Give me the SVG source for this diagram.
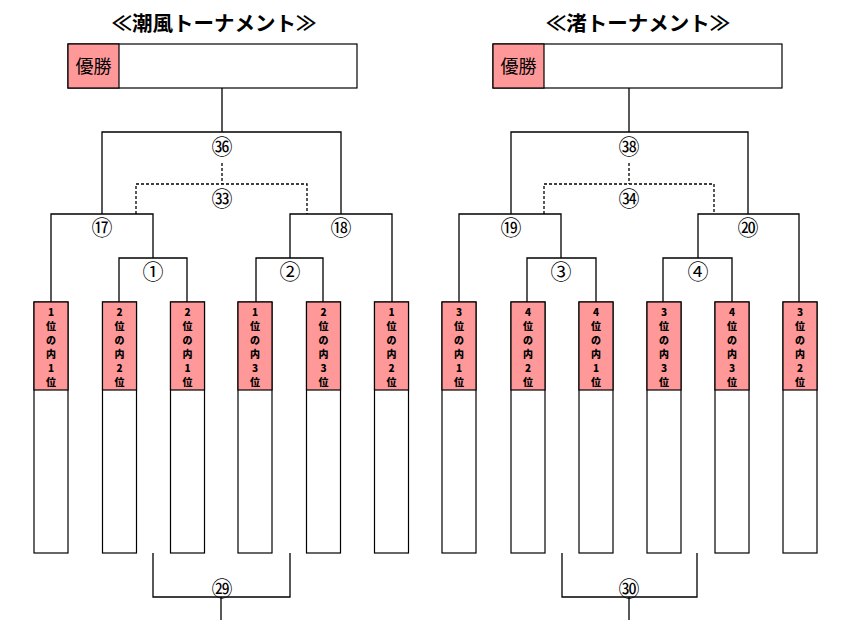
<svg xmlns="http://www.w3.org/2000/svg" width="851" height="620" viewBox="0 0 851 620">
<style>
.ln{stroke:#000;stroke-width:1.3;fill:none}
.dl{stroke:#000;stroke-width:1.3;fill:none;stroke-dasharray:3,2}
.pk{fill:#FF9999;stroke:#000;stroke-width:1.2}
.wb{fill:#fff;stroke:#000;stroke-width:1.2}
.ttl{font-family:"Noto Sans CJK JP",sans-serif;font-size:20.5px;font-weight:bold;text-anchor:middle}
.win{font-family:"Noto Sans CJK JP",sans-serif;font-size:18px;text-anchor:middle}
.cn{font-family:"Noto Sans CJK JP",sans-serif;font-size:21px;text-anchor:middle;dominant-baseline:central}
.tm{font-family:"Noto Sans CJK JP",sans-serif;font-size:10px;font-weight:900;text-anchor:middle}
</style>
<rect width="851" height="620" fill="#fff"/>
<g id="title-left"><text class="ttl" x="214" y="31">≪潮風トーナメント≫</text></g>
<g id="title-right"><text class="ttl" x="638" y="31">≪渚トーナメント≫</text></g>
<g id="winner-left"><rect class="wb" x="68" y="44" width="289" height="44"/><rect class="pk" x="68" y="44" width="51" height="44"/><text class="win" x="93.5" y="73">優勝</text></g>
<g id="winner-right"><rect class="wb" x="493" y="44" width="289" height="44"/><rect class="pk" x="493" y="44" width="51" height="44"/><text class="win" x="518.5" y="73">優勝</text></g>
<g id="connectors">
<path class="ln" d="M222 88V132M102 214V132H341V214M51 302V214H153V258M119 302V258H187V302M290 258V214H392V302M256 302V258H323V302"/>
<path class="dl" d="M222 163V184M136 214V184H307V214"/>
<path class="ln" d="M153 553V597H290V553M221 597V620"/>
<path class="ln" d="M629 88V132M511 214V132H748V214M459 302V214H561V258M527 302V258H596V302M698 258V214H799V302M663 302V258H732V302"/>
<path class="dl" d="M629 163V184M544 214V184H714V214"/>
<path class="ln" d="M562 553V597H697V553M629 597V620"/>
</g>
<g id="match-labels">
<text class="cn" x="222" y="145">㊱</text>
<text class="cn" x="222" y="197">㉝</text>
<text class="cn" x="102" y="226">⑰</text>
<text class="cn" x="341" y="226">⑱</text>
<text class="cn" x="153" y="270">①</text>
<text class="cn" x="290" y="270">②</text>
<text class="cn" x="222" y="587">㉙</text>
<text class="cn" x="629" y="145">㊳</text>
<text class="cn" x="629" y="197">㉞</text>
<text class="cn" x="511" y="226">⑲</text>
<text class="cn" x="748" y="226">⑳</text>
<text class="cn" x="561" y="270">③</text>
<text class="cn" x="698" y="270">④</text>
<text class="cn" x="629" y="587">㉚</text>
</g>
<defs>
<g id="tbox"><rect class="wb" x="-17" y="302" width="34" height="251"/><rect class="pk" x="-17" y="302" width="34" height="88"/></g>
</defs>
<g id="team-L1" transform="translate(51,0)"><use href="#tbox"/><text class="tm" x="0" y="316">1</text><text class="tm" x="0" y="330">位</text><text class="tm" x="0" y="344">の</text><text class="tm" x="0" y="358">内</text><text class="tm" x="0" y="372">1</text><text class="tm" x="0" y="386">位</text></g>
<g id="team-L2" transform="translate(119.5,0)"><use href="#tbox"/><text class="tm" x="0" y="316">2</text><text class="tm" x="0" y="330">位</text><text class="tm" x="0" y="344">の</text><text class="tm" x="0" y="358">内</text><text class="tm" x="0" y="372">2</text><text class="tm" x="0" y="386">位</text></g>
<g id="team-L3" transform="translate(187.5,0)"><use href="#tbox"/><text class="tm" x="0" y="316">2</text><text class="tm" x="0" y="330">位</text><text class="tm" x="0" y="344">の</text><text class="tm" x="0" y="358">内</text><text class="tm" x="0" y="372">1</text><text class="tm" x="0" y="386">位</text></g>
<g id="team-L4" transform="translate(255,0)"><use href="#tbox"/><text class="tm" x="0" y="316">1</text><text class="tm" x="0" y="330">位</text><text class="tm" x="0" y="344">の</text><text class="tm" x="0" y="358">内</text><text class="tm" x="0" y="372">3</text><text class="tm" x="0" y="386">位</text></g>
<g id="team-L5" transform="translate(323.5,0)"><use href="#tbox"/><text class="tm" x="0" y="316">2</text><text class="tm" x="0" y="330">位</text><text class="tm" x="0" y="344">の</text><text class="tm" x="0" y="358">内</text><text class="tm" x="0" y="372">3</text><text class="tm" x="0" y="386">位</text></g>
<g id="team-L6" transform="translate(391.5,0)"><use href="#tbox"/><text class="tm" x="0" y="316">1</text><text class="tm" x="0" y="330">位</text><text class="tm" x="0" y="344">の</text><text class="tm" x="0" y="358">内</text><text class="tm" x="0" y="372">2</text><text class="tm" x="0" y="386">位</text></g>
<g id="team-R1" transform="translate(459,0)"><use href="#tbox"/><text class="tm" x="0" y="316">3</text><text class="tm" x="0" y="330">位</text><text class="tm" x="0" y="344">の</text><text class="tm" x="0" y="358">内</text><text class="tm" x="0" y="372">1</text><text class="tm" x="0" y="386">位</text></g>
<g id="team-R2" transform="translate(528,0)"><use href="#tbox"/><text class="tm" x="0" y="316">4</text><text class="tm" x="0" y="330">位</text><text class="tm" x="0" y="344">の</text><text class="tm" x="0" y="358">内</text><text class="tm" x="0" y="372">2</text><text class="tm" x="0" y="386">位</text></g>
<g id="team-R3" transform="translate(596,0)"><use href="#tbox"/><text class="tm" x="0" y="316">4</text><text class="tm" x="0" y="330">位</text><text class="tm" x="0" y="344">の</text><text class="tm" x="0" y="358">内</text><text class="tm" x="0" y="372">1</text><text class="tm" x="0" y="386">位</text></g>
<g id="team-R4" transform="translate(664,0)"><use href="#tbox"/><text class="tm" x="0" y="316">3</text><text class="tm" x="0" y="330">位</text><text class="tm" x="0" y="344">の</text><text class="tm" x="0" y="358">内</text><text class="tm" x="0" y="372">3</text><text class="tm" x="0" y="386">位</text></g>
<g id="team-R5" transform="translate(732,0)"><use href="#tbox"/><text class="tm" x="0" y="316">4</text><text class="tm" x="0" y="330">位</text><text class="tm" x="0" y="344">の</text><text class="tm" x="0" y="358">内</text><text class="tm" x="0" y="372">3</text><text class="tm" x="0" y="386">位</text></g>
<g id="team-R6" transform="translate(800,0)"><use href="#tbox"/><text class="tm" x="0" y="316">3</text><text class="tm" x="0" y="330">位</text><text class="tm" x="0" y="344">の</text><text class="tm" x="0" y="358">内</text><text class="tm" x="0" y="372">2</text><text class="tm" x="0" y="386">位</text></g>
</svg>
